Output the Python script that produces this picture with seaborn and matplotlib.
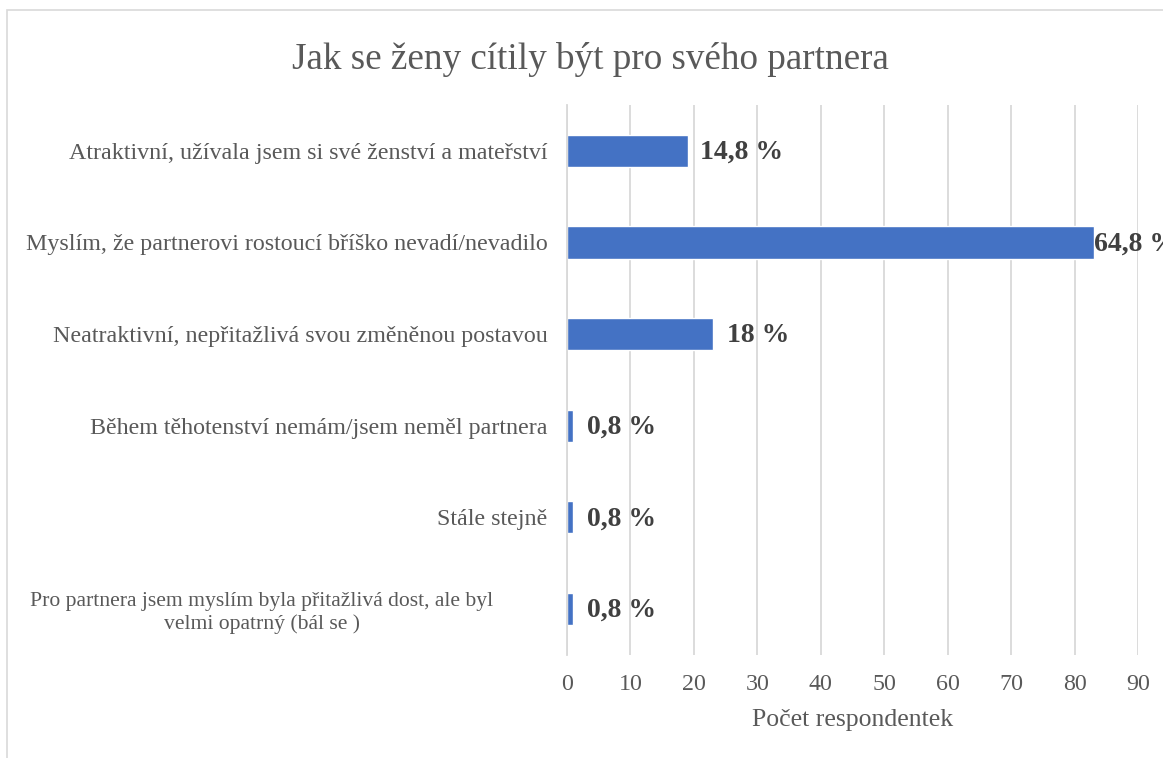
import matplotlib
matplotlib.use("Agg")
import matplotlib.pyplot as plt
import seaborn as sns
import pandas as pd
from matplotlib.patches import Rectangle

categories = [
    "Atraktivní, užívala jsem si své ženství a mateřství",
    "Myslím, že partnerovi rostoucí bříško nevadí/nevadilo",
    "Neatraktivní, nepřitažlivá svou změněnou postavou",
    "Během těhotenství nemám/jsem neměl partnera",
    "Stále stejně",
    "Pro partnera jsem myslím byla přitažlivá dost, ale byl\nvelmi opatrný (bál se )",
]
counts = [19, 83, 23, 1, 1, 1]
percent_labels = ["14,8 %", "64,8 %", "18 %", "0,8 %", "0,8 %", "0,8 %"]
x_ticks = [0, 10, 20, 30, 40, 50, 60, 70, 80, 90]

df = pd.DataFrame({"kategorie": categories, "pocet": counts})

sns.set_theme(style="white")
plt.rcParams["font.family"] = ["Liberation Serif", "DejaVu Serif"]

fig = plt.figure(figsize=(11.63, 7.58), dpi=100)
ax = fig.add_axes([0.4875, 0.136, 0.491, 0.7255])

sns.barplot(data=df, x="pocet", y="kategorie", color="#4472C4",
            width=0.35, saturation=1, ax=ax, orient="h")

ax.set_xlim(0, 90)
ax.set_xticks(x_ticks)
ax.grid(axis="x", color="#D9D9D9", linewidth=1.3)
ax.set_axisbelow(True)
for s in ["top", "right", "bottom"]:
    ax.spines[s].set_visible(False)
ax.spines["left"].set_color("#D9D9D9")
ax.spines["left"].set_linewidth(1.3)
ax.tick_params(axis="y", length=0, labelsize=17.3, colors="#595959", pad=14)
ax.tick_params(axis="x", length=0, labelsize=17.3, colors="#595959", pad=14)

ax.set_ylabel("")
ax.set_xlabel("Počet respondentek", fontsize=18.5, color="#595959", labelpad=10)

# last label is wrapped, smaller and centered like in Excel
ylabels = ax.get_yticklabels()
last = ylabels[-1]
last.set_fontsize(15.6)
last.set_multialignment("center")
last.set_horizontalalignment("center")
last.set_x(-0.5)

pads = [9, 0, 10, 10, 10, 10]
for patch, txt, pad in zip(ax.patches, percent_labels, pads):
    ax.annotate(txt, xy=(patch.get_width(), patch.get_y() + patch.get_height() / 2),
                xytext=(pad, -1), textcoords="offset points", ha="left", va="center",
                fontsize=20, fontweight="bold", color="#404040",
                annotation_clip=False)

fig.text(0.508, 0.922, "Jak se ženy cítily být pro svého partnera",
         ha="center", va="center", fontsize=26.7, color="#595959")

fig.patches.append(Rectangle((7 / 1163, -0.05), 1.1, 1 - 10 / 758 + 0.05,
                             transform=fig.transFigure, fill=False,
                             edgecolor="#D9D9D9", linewidth=1.2))

fig.savefig("out.png", dpi=100)
